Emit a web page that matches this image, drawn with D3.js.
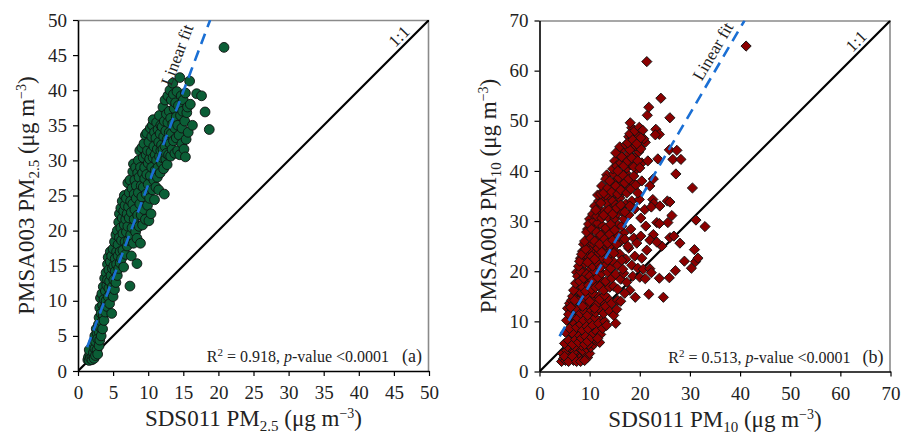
<!DOCTYPE html>
<html>
<head>
<meta charset="utf-8">
<script src="https://cdn.jsdelivr.net/npm/d3@7"></script>
<style>
  body { margin: 0; background: #fff; }
  svg { font-family: "Liberation Serif", "Times New Roman", serif; }
</style>
</head>
<body>
<div class="chart"></div>
<script>
// SDS011 vs PMSA003, PM2.5 (panel a)
var pm25 = [
  [1.4,1.6],[1.5,2.0],[1.6,1.5],[1.7,2.4],[1.8,1.8],[1.9,2.9],[2.0,1.6],[2.0,3.4],[2.1,2.2],[1.6,3.0],
  [2.2,2.6],[2.2,4.0],[2.3,1.8],[2.4,3.2],[2.4,5.0],[2.5,2.2],[2.5,4.2],[2.6,6.0],[2.7,3.0],[2.7,5.4],
  [2.8,2.4],[2.8,4.6],[2.9,6.6],[3.0,3.6],[3.0,5.6],
  [3.0,7.6],[3.1,4.4],[3.1,9.0],[3.2,6.2],[3.2,10.4],[3.3,5.0],[3.3,8.2],[3.4,7.0],[3.4,11.0],[3.5,6.0],
  [3.5,9.4],[3.6,8.0],[3.6,12.0],[3.7,10.2],[3.7,7.2],[3.8,9.0],[3.8,13.2],[3.9,11.4],[3.9,8.4],[4.0,10.0],[4.0,14.0],
  [4.1,12.2],[4.1,9.2],[4.2,15.2],[4.2,13.0],[4.3,16.2],[4.3,10.6],[4.4,11.8],[4.4,14.4],[4.5,9.6],[4.5,12.8],
  [4.6,15.6],[4.6,17.0],[4.7,11.0],[4.7,13.6],[4.8,8.2],[4.8,16.4],[4.9,14.6],[4.9,12.0],[5.0,17.4],[5.0,10.6],
  [5.1,15.0],[5.1,13.0],[5.2,18.4],[5.2,11.6],[5.3,16.0],[5.3,14.2],[5.4,19.4],[5.4,12.6],[5.5,17.0],[5.5,15.2],
  [5.6,20.0],[5.6,13.6],[5.7,18.0],[5.7,16.4],[5.8,21.2],[5.8,14.6],[5.9,19.0],[5.9,22.4],[6.0,17.0],[6.0,15.4],
  [6.1,20.4],[6.1,23.2],[6.2,18.6],[6.2,16.0],[6.3,21.8],[6.3,24.2],[6.4,19.6],[6.4,17.2],[6.5,22.8],[6.5,14.8],
  [6.6,20.8],[6.6,25.0],[6.7,18.4],[6.7,23.6],[6.8,21.6],[6.8,16.6],[6.9,19.8],[6.9,24.6],[7.0,22.4],[7.0,17.8],
  [7.1,26.8],[7.1,20.6],[7.2,23.4],[7.2,18.6],[7.3,25.4],[7.3,21.8],[7.4,12.1],[7.4,27.2],[7.5,19.4],[7.5,24.2],
  [7.6,22.6],[7.6,16.4],[7.7,26.0],[7.7,20.4],[7.8,23.8],[7.8,28.4],[7.9,29.5],[7.9,18.2],[8.0,25.2],[8.0,21.6],
  [8.1,27.2],[8.1,23.0],[8.2,29.0],[8.2,19.8],[8.3,24.6],[8.3,26.4],[8.4,15.3],[8.4,18.9],[8.5,28.2],[8.5,22.2],
  [8.6,30.0],[8.6,25.4],[8.7,27.6],[8.7,20.6],[8.8,23.8],[8.8,31.4],[8.9,18.2],[8.9,29.0],[9.0,26.4],[9.0,22.2],
  [9.1,31.8],[9.1,24.8],[9.2,28.2],[9.2,20.8],[9.3,30.4],[9.3,26.2],[9.4,32.4],[9.4,23.0],[9.5,29.0],[9.5,27.4],
  [9.6,33.6],[9.6,21.6],[9.7,30.8],[9.7,25.2],[9.8,33.9],[9.8,28.0],[9.9,31.4],[9.9,23.6],[10.0,29.6],[10.0,26.6],
  [10.1,32.6],[10.1,21.4],[10.2,30.2],[10.2,24.6],[10.3,34.6],[10.3,27.8],[10.4,31.2],[10.4,22.4],[10.5,33.4],[10.5,29.0],
  [10.6,35.0],[10.6,25.8],[10.7,35.8],[10.7,30.4],[10.8,32.0],[10.8,27.2],[10.9,34.0],[10.9,24.4],[11.0,30.8],[11.0,28.6],
  [11.1,33.2],[11.1,26.2],[11.2,35.4],[11.2,30.0],[11.3,31.6],[11.3,27.6],[11.4,34.4],[11.4,29.0],[11.5,32.6],[11.5,25.8],
  [11.6,36.4],[11.6,30.6],[11.7,33.8],[11.7,28.2],[11.8,35.0],[11.8,31.4],[11.9,32.2],[11.9,29.6],[12.0,34.8],[12.0,30.4],
  [12.1,37.6],[12.1,31.6],[12.2,33.4],[12.2,28.8],[12.3,25.2],[12.3,35.6],[12.4,32.0],[12.4,38.6],[12.5,30.2],[12.5,34.2],
  [12.6,36.6],[12.6,31.0],[12.7,33.0],[12.7,29.4],[12.8,39.2],[12.8,35.4],[12.9,32.6],[12.9,30.8],[13.0,37.0],[13.0,34.0],
  [13.1,40.0],[13.1,32.4],[13.2,36.0],[13.2,30.6],[13.3,38.6],[13.3,33.8],[13.5,41.0],[13.4,31.6],[13.5,35.2],[13.6,39.4],
  [13.6,32.8],[13.7,37.4],[13.8,34.6],[13.8,31.0],[13.9,38.2],[14.0,33.2],[14.0,36.2],[14.1,39.8],[14.2,31.4],[14.2,35.0],
  [14.3,37.8],[14.4,33.6],[14.5,41.8],[14.5,30.8],[14.6,36.4],[14.7,39.2],[14.8,32.4],[14.8,34.6],[14.9,37.0],[15.0,38.6],
  [15.1,31.6],[15.2,35.6],[15.3,30.5],[15.3,39.6],[15.4,33.0],[15.5,36.8],[15.6,37.6],[15.7,34.0],[15.9,41.3],[16.0,38.0],
  [16.3,35.0],[16.9,39.5],[17.6,39.2],[18.1,36.9],[18.7,34.4],[20.8,46.1]
];

// SDS011 vs PMSA003, PM10 (panel b)
var pm10 = [
  [4.4,2.0],[4.8,2.6],[5.2,2.2],[5.6,3.0],[6.0,2.4],[6.4,3.4],[6.8,2.2],[7.2,2.8],[7.6,3.6],[8.0,2.4],
  [8.4,3.0],[8.8,2.6],[9.2,3.4],[9.6,2.8],[10.0,3.6],[4.6,3.6],[5.4,4.2],[6.2,4.6],[7.0,4.0],[7.8,4.8],
  [8.6,4.2],[9.4,4.6],[10.2,4.8],[10.8,5.4],[11.2,6.2],
  [5.0,3.0],[5.8,2.0],[6.6,3.0],[7.4,2.0],[8.2,2.0],[9.0,2.2],[5.6,5.0],[6.4,6.6],[7.0,5.0],[7.8,7.6],
  [8.4,5.2],[9.0,8.6],[9.8,5.4],[10.4,8.2],[6.6,9.0],[7.2,10.8],[8.0,11.2],[5.8,8.0],[9.6,10.0],[11.2,9.0],
  [12.4,10.4],[10.2,11.6],[6.0,10.0],
  [5.0,5.6],[5.2,7.8],[5.4,10.2],[5.8,6.2],[6.0,8.6],[6.2,11.2],[6.6,5.4],[6.8,7.4],[7.0,9.6],[7.2,6.4],
  [7.4,8.8],[7.6,10.6],[7.8,5.8],[8.0,7.2],[8.2,9.4],[8.4,6.6],[8.6,8.2],[8.8,10.2],[9.0,5.4],[9.2,7.0],
  [9.4,9.0],[9.6,6.0],[9.8,8.4],[10.0,10.4],[10.4,6.8],[10.6,9.2],[10.8,7.6],[11.0,10.8],[11.4,8.0],[11.8,9.6],
  [12.2,7.4],[12.6,8.6],[13.0,10.0],[13.4,9.2],[12.0,5.8],[11.6,6.6],
  [5.6,12.6],[6.0,13.6],[6.4,14.2],[6.6,12.0],[7.0,13.0],[7.2,15.0],[7.6,12.4],[7.8,14.2],[8.2,11.6],[8.4,13.4],
  [8.6,15.2],[9.0,12.0],[9.2,14.0],[9.6,11.2],[9.8,13.2],[10.2,15.0],[10.4,12.2],[10.8,14.0],[11.2,11.8],[11.4,13.4],
  [11.8,15.0],[12.2,12.2],[12.4,14.2],[12.8,11.6],[13.2,13.0],[13.6,14.6],[14.0,12.0],[14.4,13.6],[14.8,11.2],[15.4,12.4],
  [15.2,9.6],[15.6,14.2],[16.2,14.0],[8.0,16.4],
  [5.8,11.4],[6.2,12.8],[6.6,15.0],[7.0,14.2],[7.4,16.2],[7.8,17.0],[8.2,15.8],[8.6,13.0],[9.0,17.4],[9.4,15.0],
  [9.8,18.2],[10.0,14.0],[10.6,15.6],[11.0,12.6],[11.4,17.6],[12.0,14.4],[12.6,18.0],[13.0,15.2],[13.4,17.0],[7.4,19.8],
  [8.4,19.2],[9.0,20.0],[10.2,20.4],
  [6.8,16.2],[7.2,17.6],[7.6,19.0],[8.0,18.0],[8.2,20.0],[8.6,16.8],[8.8,18.6],[9.2,16.0],[9.4,19.4],[9.8,17.2],
  [10.0,19.0],[10.4,16.4],[10.6,18.2],[11.0,20.0],[11.2,16.8],[11.6,18.8],[12.0,17.0],[12.4,19.6],[12.8,16.2],[13.2,18.0],
  [13.6,19.8],[14.0,16.8],[14.4,18.6],[14.8,17.0],[15.2,19.4],[15.6,16.4],[16.2,18.4],[16.8,19.6],[17.4,17.8],[18.0,16.2],
  [18.6,19.0],[19.1,14.8],[20.0,18.8],[21.1,18.5],[21.8,15.4],[24.7,14.8],[17.0,15.6],
  [7.8,21.0],[8.2,22.6],[8.6,24.0],[9.0,21.6],[9.4,23.2],[9.6,25.0],[10.0,22.2],[10.2,24.2],[10.6,21.0],[10.8,23.4],
  [11.2,25.0],[11.4,21.8],[11.8,23.6],[12.2,20.8],[12.6,22.6],[13.0,24.4],[13.4,21.4],[13.8,23.2],[14.2,20.6],[14.6,22.0],
  [15.0,24.0],[15.6,21.2],[16.0,23.4],[16.6,20.4],[17.2,22.4],[17.8,24.6],[18.4,21.2],[19.0,23.0],[19.6,20.6],[20.7,20.4],
  [22.0,20.5],[22.3,19.7],[20.4,22.6],[23.9,18.6],[25.9,18.7],[27.1,20.1],[28.9,22.0],[30.3,20.6],[31.1,21.9],[31.6,22.6],
  [30.9,24.3],[24.4,25.0],[21.4,24.2],
  [8.0,22.0],[8.4,23.4],[8.8,25.4],[9.2,24.4],[9.6,21.8],[10.0,27.0],[10.4,23.0],[10.6,25.6],[11.0,22.4],[11.2,28.6],
  [11.6,24.6],[12.0,26.8],[12.4,23.8],[12.8,27.8],[13.2,25.2],[13.6,22.2],[14.0,25.0],[14.4,28.0],[14.8,23.6],[15.2,26.6],
  [15.6,29.2],[16.0,25.8],[16.4,22.2],[16.8,27.6],[9.6,28.4],[10.0,30.4],
  [9.0,26.0],[9.4,27.8],[9.8,29.4],[10.2,26.6],[10.4,28.4],[10.8,30.0],[11.0,26.0],[11.4,27.8],[11.6,29.6],[12.0,25.4],
  [12.2,27.2],[12.6,29.0],[13.0,26.4],[13.2,28.6],[13.6,25.6],[14.0,27.4],[14.2,29.4],[14.6,26.2],[15.0,28.2],[15.4,25.4],
  [15.8,27.0],[16.4,29.0],[17.0,26.4],[17.6,25.0],[18.2,28.4],[18.8,26.6],[19.4,25.6],[20.2,27.0],[22.7,27.3],[22.0,26.2],
  [23.4,25.8],[26.0,26.7],[26.8,27.0],[28.0,25.6],[21.2,29.0],[25.6,29.7],[23.4,29.7],[23.9,29.5],[33.0,28.9],
  [10.6,31.4],[11.0,33.0],[11.4,31.0],[11.8,34.0],[12.0,32.2],[12.4,30.6],[12.6,34.6],[13.0,32.0],[13.4,33.6],[13.6,30.8],
  [14.0,35.0],[14.2,32.4],[14.6,34.0],[15.0,30.6],[15.2,33.2],[15.6,31.6],[16.0,34.6],[16.4,32.0],[16.8,30.4],[17.2,33.4],
  [17.8,31.2],[18.4,34.0],[19.0,32.4],[19.9,34.3],[21.0,32.3],[22.6,34.3],[22.8,33.5],[22.3,32.8],[24.0,33.0],[25.5,34.0],
  [26.0,33.8],[26.4,31.1],[31.2,30.2],[20.2,30.6],
  [11.2,32.2],[11.6,35.2],[12.2,33.6],[12.8,31.2],[13.2,35.2],[13.8,32.2],[14.2,36.8],[14.6,31.4],[15.0,35.6],[15.4,32.6],
  [15.8,36.8],[16.2,33.2],[16.6,35.8],[17.0,31.8],[17.6,36.6],[18.0,33.0],[13.0,36.2],[13.4,39.2],[14.4,37.4],[15.4,38.2],
  [16.4,37.6],[17.2,39.6],[18.4,37.8],[12.2,35.4],
  [12.4,37.0],[12.8,35.6],[13.2,38.4],[13.6,36.6],[14.0,38.0],[14.4,35.8],[14.8,39.4],[15.2,37.0],[15.6,35.4],[15.8,38.6],
  [16.2,36.2],[16.6,39.2],[17.0,37.6],[17.4,35.6],[17.8,38.4],[18.2,36.4],[18.8,39.0],[19.2,37.2],[19.6,35.6],[20.4,38.0],
  [22.0,37.0],[22.7,38.4],[27.2,39.4],[30.5,36.6],
  [14.6,40.4],[15.0,42.0],[15.4,41.0],[15.8,43.2],[16.2,41.6],[16.6,44.4],[17.0,42.4],[17.4,40.6],[17.8,43.4],[18.2,41.2],
  [18.6,44.6],[19.0,42.6],[19.4,40.4],[19.8,43.8],[20.4,41.6],[21.1,45.7],[21.6,42.0],[23.6,42.4],[26.6,42.3],[28.2,42.3],
  [25.9,44.2],[27.4,44.1],
  [15.2,43.6],[15.6,40.0],[16.0,44.8],[16.4,42.8],[16.8,41.0],[17.2,45.2],[17.6,42.0],[18.0,44.2],[18.4,42.6],[18.8,40.8],
  [19.2,45.0],[19.6,42.0],[20.0,40.6],[20.2,44.4],[18.4,48.6],[17.8,46.8],[19.6,47.2],[20.8,46.4],
  [17.6,45.6],[18.0,47.4],[18.1,49.6],[18.6,46.2],[19.0,48.0],[19.4,45.4],[19.9,48.7],[20.6,48.1],[20.2,46.6],[23.2,48.3],
  [23.9,47.3],[23.1,47.2],[21.5,51.1],[26.0,50.6],[21.8,52.7],[24.2,54.5],[21.4,61.8],[41.2,64.9]
];

var ticksA = [0, 5, 10, 15, 20, 25, 30, 35, 40, 45, 50];
var ticksB = [0, 10, 20, 30, 40, 50, 60, 70];

// linear fits: [slope, intercept, x start]
var fitA = [2.66, -0.08, 1.3];
var fitB = [1.707, 0.2, 4.0];

var statsA = ['0.918', '(a)'];
var statsB = ['0.513', '(b)'];

var size = 351;

var svg = d3.select('.chart')
  .append('svg')
    .attr('width', 902)
    .attr('height', 435);

function panel(opts) {
  var g = svg.append('g')
    .attr('transform', 'translate(' + opts.left + ',' + opts.top + ')');

  var max = opts.ticks[opts.ticks.length - 1];
  var x = d3.scaleLinear().domain([0, max]).range([0, size]);
  var y = d3.scaleLinear().domain([0, max]).range([size, 0]);

  g.append('clipPath').attr('id', 'clip' + opts.id)
    .append('rect').attr('width', size).attr('height', size);

  // top / right frame (grey)
  g.append('path')
    .attr('d', 'M0,0.5H' + (size - 0.5) + 'V' + size)
    .attr('fill', 'none')
    .attr('stroke', '#8a8a8a')
    .attr('stroke-width', 1.6);

  var xAxis = g.append('g')
    .attr('transform', 'translate(0,' + size + ')')
    .call(d3.axisBottom(x).tickValues(opts.ticks).tickSize(5).tickSizeOuter(0).tickPadding(10));
  var yAxis = g.append('g')
    .call(d3.axisLeft(y).tickValues(opts.ticks).tickSize(5).tickSizeOuter(0).tickPadding(6));

  [xAxis, yAxis].forEach(function (a) {
    a.select('.domain').attr('stroke', '#000').attr('stroke-width', 1.6);
    a.selectAll('.tick line').attr('stroke', '#000').attr('stroke-width', 1.2);
    a.selectAll('.tick text')
      .attr('fill', '#222')
      .style('font-family', '"Liberation Serif", serif')
      .style('font-size', '19px');
  });

  var plot = g.append('g').attr('clip-path', 'url(#clip' + opts.id + ')');

  // 1:1 line
  plot.append('line')
    .attr('x1', x(0)).attr('y1', y(0))
    .attr('x2', x(max)).attr('y2', y(max))
    .attr('stroke', '#000')
    .attr('stroke-width', 2.2);

  if (opts.shape === 'circle') {
    plot.selectAll('circle.pt')
      .data(opts.data)
      .enter()
      .append('circle')
        .attr('class', 'pt')
        .attr('cx', d => x(d[0]))
        .attr('cy', d => y(d[1]))
        .attr('r', 4.9)
        .attr('fill', opts.color)
        .attr('stroke', '#111')
        .attr('stroke-width', 0.9);
  } else {
    var sym = d3.symbol().type(d3.symbolSquare).size(52);
    plot.selectAll('path.pt')
      .data(opts.data)
      .enter()
      .append('path')
        .attr('class', 'pt')
        .attr('d', sym)
        .attr('transform', d => 'translate(' + x(d[0]) + ',' + y(d[1]) + ') rotate(45)')
        .attr('fill', opts.color)
        .attr('stroke', '#111')
        .attr('stroke-width', 0.9);
  }

  // linear fit (dashed)
  var fit = opts.fit;
  var xEnd = (max - fit[1]) / fit[0];
  plot.append('line')
    .attr('x1', x(fit[2])).attr('y1', y(fit[0] * fit[2] + fit[1]))
    .attr('x2', x(xEnd)).attr('y2', y(max))
    .attr('stroke', '#1a6fd4')
    .attr('stroke-width', 2.6)
    .attr('stroke-dasharray', '11,7');

  // labels along the lines
  function lineLabel(txt, slope, x0, y0, d) {
    var th = Math.atan(slope);
    var px = x(x0) - d * Math.sin(th);
    var py = y(y0) - d * Math.cos(th);
    g.append('text')
      .attr('transform', 'translate(' + px + ',' + py + ') rotate(' + (-th * 180 / Math.PI) + ')')
      .attr('text-anchor', 'middle')
      .style('font-size', '17px')
      .attr('fill', '#222')
      .text(txt);
  }
  lineLabel('Linear fit', fit[0], opts.fitLabel, fit[0] * opts.fitLabel + fit[1], opts.fitGap);
  lineLabel('1:1', 1, opts.oneLabel, opts.oneLabel, 4);

  // stats + panel letter
  var st = g.append('text')
    .attr('x', size - 40).attr('y', size - 9)
    .attr('text-anchor', 'end')
    .attr('fill', '#222')
    .style('font-size', '16px');
  st.append('tspan').text('R');
  st.append('tspan').attr('dy', -6).style('font-size', '11px').text('2');
  st.append('tspan').attr('dy', 6).text(' = ' + opts.stats[0] + ', ');
  st.append('tspan').style('font-style', 'italic').text('p');
  st.append('tspan').text('-value <0.0001');

  g.append('text')
    .attr('x', size - 7).attr('y', size - 9)
    .attr('text-anchor', 'end')
    .attr('fill', '#222')
    .style('font-size', '18px')
    .text(opts.stats[1]);

  // axis titles
  function title(t, name, sub) {
    t.style('font-size', '23px').attr('fill', '#222').attr('text-anchor', 'middle');
    t.append('tspan').text(name + ' PM');
    t.append('tspan').attr('dy', 5).style('font-size', '15px').text(sub);
    t.append('tspan').attr('dy', -5).text(' (\u03bcg m');
    t.append('tspan').attr('dy', -8).style('font-size', '14px').text('\u22123');
    t.append('tspan').attr('dy', 8).text(')');
  }
  var xt = g.append('text')
    .attr('x', size / 2).attr('y', size + 55);
  title(xt, 'SDS011', opts.sub);

  var yt = g.append('text')
    .attr('transform', 'translate(' + opts.yTitle + ',' + (size / 2) + ') rotate(-90)');
  title(yt, 'PMSA003', opts.sub);
}

panel({
  id: 'a', left: 78, top: 20, ticks: ticksA, data: pm25, shape: 'circle',
  color: '#0b5e36', fit: fitA, fitLabel: 16.6, fitGap: 13, oneLabel: 46.7, stats: statsA,
  sub: '2.5', yTitle: -44
});

panel({
  id: 'b', left: 539.5, top: 20.5, ticks: ticksB, data: pm10, shape: 'diamond',
  color: '#8b0000', fit: fitB, fitLabel: 36.6, fitGap: 6, oneLabel: 64.5, stats: statsB,
  sub: '10', yTitle: -44
});
</script>
</body>
</html>
